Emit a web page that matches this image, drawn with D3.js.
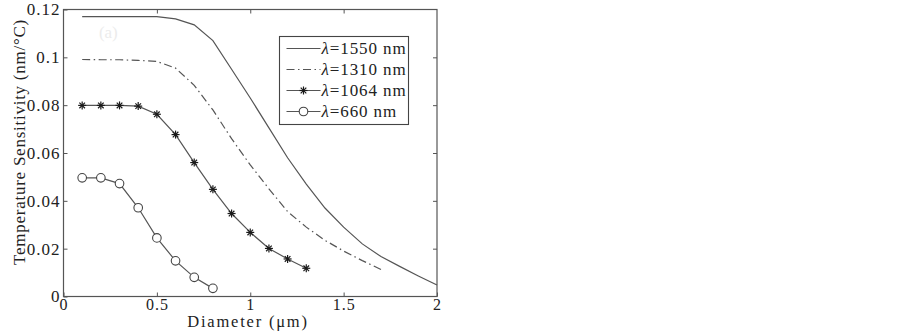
<!DOCTYPE html>
<html>
<head>
<meta charset="utf-8">
<script src="https://cdn.jsdelivr.net/npm/d3@7"></script>
<style>
body{margin:0;background:#fff}
text{font-family:"Liberation Serif","Times New Roman",serif;fill:#222}
.tick text{font-size:17px;letter-spacing:1px}
.xaxis .tick text{font-size:16px}
</style>
</head>
<body>
<svg id="chart"></svg>
<script>
// data
var diam1550=[0.1,0.2,0.3,0.4,0.5,0.6,0.7,0.8,0.9,1.0,1.1,1.2,1.3,1.4,1.5,1.6,1.7,1.8,1.9,2.0]
var sens1550=[0.117,0.117,0.117,0.117,0.117,0.1161,0.1136,0.107,0.095,0.083,0.0705,0.058,0.047,0.037,0.029,0.022,0.0167,0.0126,0.0086,0.0048]
var diam1310=[0.1,0.2,0.3,0.4,0.5,0.6,0.7,0.8,0.9,1.0,1.1,1.2,1.3,1.4,1.5,1.6,1.7]
var sens1310=[0.0991,0.099,0.099,0.0987,0.0983,0.0955,0.0883,0.078,0.066,0.055,0.045,0.0355,0.029,0.0235,0.019,0.015,0.0113]
var diam1064=[0.1,0.2,0.3,0.4,0.5,0.6,0.7,0.8,0.9,1.0,1.1,1.2,1.3]
var sens1064=[0.0799,0.0799,0.0799,0.0796,0.0762,0.0677,0.056,0.0448,0.0347,0.0268,0.0201,0.0157,0.0118]
var diam660=[0.1,0.2,0.3,0.4,0.5,0.6,0.7,0.8]
var sens660=[0.0496,0.0496,0.0472,0.0371,0.0245,0.0149,0.008,0.0034]
var xTicks=[0,0.5,1,1.5,2]
var yTicks=[0,0.02,0.04,0.06,0.08,0.1,0.12]
var legendLabels=["1550 nm","1310 nm","1064 nm","660 nm"]

var screen={width:902,height:336}
var margins={left:63.5,right:465,top:9.5,bottom:39.5}
var graph={
    width:screen.width-margins.left-margins.right,
    height:screen.height-margins.top-margins.bottom}

var svg=d3.select("#chart")
    .attr("width",screen.width)
    .attr("height",screen.height)

var xScale=d3.scaleLinear().domain([0,2]).range([0,graph.width])
var yScale=d3.scaleLinear().domain([0,0.12]).range([graph.height,0])

var plot=svg.append("g")
    .attr("transform","translate("+margins.left+","+margins.top+")")

var lineColor="#555"

//faint panel tag
plot.append("text")
    .text("(a)")
    .attr("x",xScale(0.24))
    .attr("y",yScale(0.108))
    .attr("text-anchor","middle")
    .style("font-size","17px")
    .style("fill","#ececec")

var lineGen=function(xs){
    return d3.line()
        .x(function(d,i){return xScale(xs[i])})
        .y(function(d){return yScale(d)})
}

var series=[
    {x:diam1550,y:sens1550,dash:null,marker:null},
    {x:diam1310,y:sens1310,dash:"8,3.5,1.5,3.5",marker:null},
    {x:diam1064,y:sens1064,dash:null,marker:"star"},
    {x:diam660,y:sens660,dash:null,marker:"circle"}
]

var drawMarker=function(g,type,cx,cy){
    if(type=="star"){
        var r=4
        var m=g.append("g").attr("transform","translate("+cx+","+cy+")")
            .attr("stroke","#1a1a1a").attr("stroke-width",1.2)
        m.append("line").attr("x1",-r).attr("x2",r).attr("y1",0).attr("y2",0)
        m.append("line").attr("x1",0).attr("x2",0).attr("y1",-r).attr("y2",r)
        m.append("line").attr("x1",-r*0.7).attr("x2",r*0.7).attr("y1",-r*0.7).attr("y2",r*0.7)
        m.append("line").attr("x1",-r*0.7).attr("x2",r*0.7).attr("y1",r*0.7).attr("y2",-r*0.7)
    }else if(type=="circle"){
        g.append("circle").attr("cx",cx).attr("cy",cy).attr("r",4.3)
            .attr("fill","#fff").attr("stroke","#444").attr("stroke-width",1.1)
    }
}

series.forEach(function(s){
    plot.append("path")
        .datum(s.y)
        .attr("d",lineGen(s.x))
        .attr("fill","none")
        .attr("stroke",lineColor)
        .attr("stroke-width",1.2)
        .attr("stroke-dasharray",s.dash)
    if(s.marker){
        var mg=plot.append("g")
        s.y.forEach(function(v,i){
            drawMarker(mg,s.marker,xScale(s.x[i]),yScale(v))
        })
    }
})

//axes, ticks pointing inward like the original
var styleAxis=function(g){
    g.select(".domain").remove()
    g.selectAll(".tick line").attr("stroke","#555")
}
plot.append("g")
    .classed("xaxis",true)
    .attr("transform","translate(0,"+graph.height+")")
    .call(d3.axisBottom(xScale).tickValues(xTicks).tickSize(-4).tickPadding(2)
        .tickFormat(function(d){return d==0?"0":String(d)}))
    .call(styleAxis)
plot.append("g")
    .call(d3.axisTop(xScale).tickValues(xTicks.slice(1,-1)).tickSize(-4).tickFormat(""))
    .call(styleAxis)
plot.append("g")
    .call(d3.axisLeft(yScale).tickValues(yTicks).tickSize(-4).tickPadding(3)
        .tickFormat(function(d){return d==0?"0":String(+d.toFixed(2))}))
    .call(styleAxis)
plot.append("g")
    .attr("transform","translate("+graph.width+",0)")
    .call(d3.axisRight(yScale).tickValues(yTicks.slice(1,-1)).tickSize(-4).tickFormat(""))
    .call(styleAxis)
plot.selectAll(".tick text").style("fill","#222")

plot.append("rect")
    .attr("width",graph.width)
    .attr("height",graph.height)
    .attr("fill","none")
    .attr("stroke","#555")
    .attr("stroke-width",1.2)

//legend
var legend=svg.append("g").attr("transform","translate(279.5,36.5)")
legend.append("rect")
    .attr("width",129)
    .attr("height",88)
    .attr("fill","#fff")
    .attr("stroke","#444")
    .attr("stroke-width",1.1)
series.forEach(function(s,i){
    var ly=12+i*21
    legend.append("line")
        .attr("x1",7).attr("x2",41).attr("y1",ly).attr("y2",ly)
        .attr("stroke",lineColor).attr("stroke-width",1.2)
        .attr("stroke-dasharray",s.dash)
    if(s.marker) drawMarker(legend,s.marker,24,ly)
    var t=legend.append("text")
        .attr("x",42).attr("y",ly+5.5)
        .style("font-size","17px")
        .style("letter-spacing","0.9px")
    t.append("tspan").text("λ").style("font-style","italic")
    t.append("tspan").text("="+legendLabels[i])
})

//labels
svg.append("text")
    .text("Diameter (μm)")
    .attr("text-anchor","middle")
    .attr("x",248)
    .attr("y",327)
    .style("font-size","16.5px")
    .style("letter-spacing","1.8px")
svg.append("g")
    .attr("transform","translate(25,142)")
    .append("text")
    .text("Temperature Sensitivity (nm/°C)")
    .attr("text-anchor","middle")
    .attr("transform","rotate(270)")
    .style("font-size","17px")
    .style("letter-spacing","0.75px")
</script>
</body>
</html>
